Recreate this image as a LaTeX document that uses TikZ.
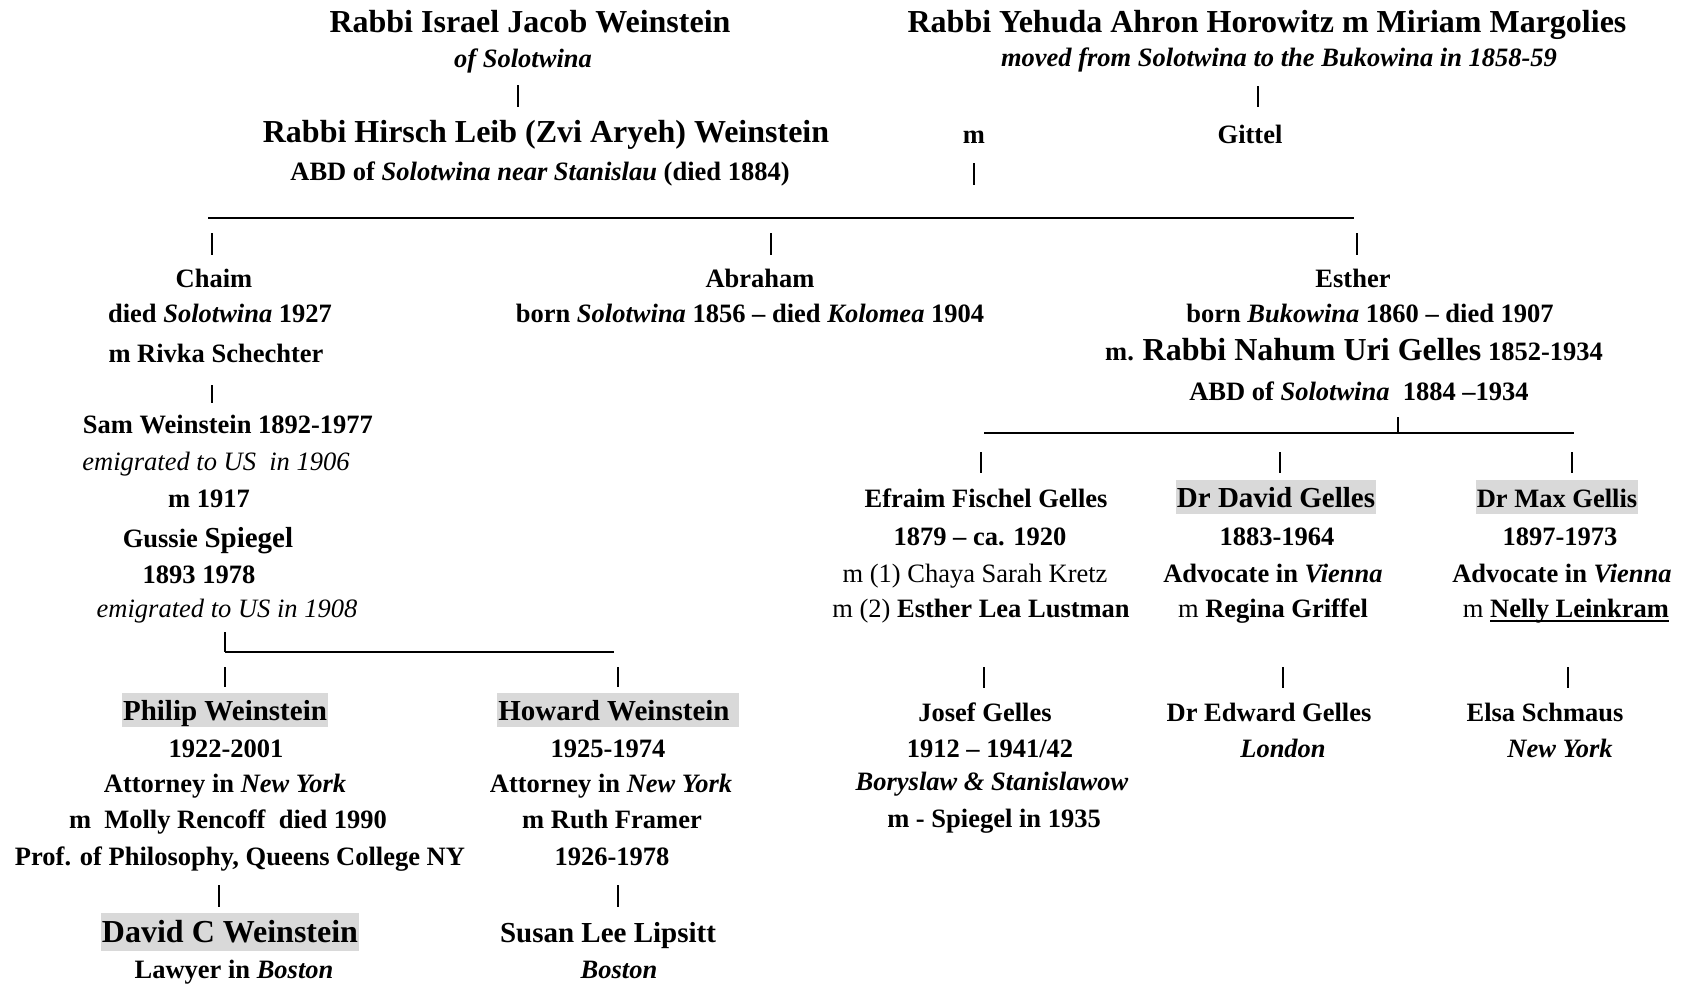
\documentclass[tikz,border=0pt]{standalone}
\usepackage{fontspec}
\setmainfont{Liberation Serif}
\newcommand{\fb}{\fontsize{26.5pt}{30pt}\selectfont}
\newcommand{\fm}{\fontsize{29pt}{33pt}\selectfont}
\newcommand{\fh}{\fontsize{32pt}{36pt}\selectfont}
\newcommand{\ulbold}[1]{\setbox0\hbox{#1}\rlap{\rule[-5pt]{\wd0}{1.8pt}}\box0}
\definecolor{hl}{HTML}{D9D9D9}
\begin{document}
\begin{tikzpicture}[x=1pt,y=-1pt,
  t/.style={anchor=base,inner sep=0pt,font=\fb\bfseries},
  h/.style={t,font=\fh\bfseries},
  mdn/.style={t,font=\fm\bfseries},
  it/.style={t,font=\fb\itshape\mdseries},
  hlbox/.style={fill=hl,inner xsep=1pt,inner ysep=0pt,text height=27.5pt,text depth=7pt},
  thinbar/.style={line width=1.1pt},
  boldbar/.style={line width=2pt},
  hrule/.style={line width=1.4pt}]
\useasboundingbox (0,0) rectangle (1684,986);
% --- generation 1
\node[h] (isr) at (530,32) {Rabbi Israel Jacob Weinstein};
\node[h] (yeh) at (1267,32) {Rabbi Yehuda Ahron Horowitz m Miriam Margolies};
\node[t] (isr2) at (523,67) {\textit{of Solotwina}};
\node[t] (yeh2) at (1279,66) {\textit{moved from Solotwina to the Bukowina in 1858-59}};
% --- generation 2
\node[h] (hir) at (546,142) {Rabbi Hirsch Leib (Zvi Aryeh) Weinstein};
\node[t] (mar) at (974,143) {m};
\node[t] (git) at (1250,143) {Gittel};
\node[t] (hir2) at (540,180) {ABD of \textit{Solotwina near Stanislau} (died 1884)};
% --- generation 3
\node[t] (chaim) at (214,287) {Chaim};
\node[t] (abr) at (760,287) {Abraham};
\node[t] (est) at (1353,287) {Esther};
\node[t] (chaim2) at (220,322) {died \textit{Solotwina} 1927};
\node[t] (abr2) at (750,322) {born \textit{Solotwina} 1856 – died \textit{Kolomea} 1904};
\node[t] (est2) at (1370,322) {born \textit{Bukowina} 1860 – died 1907};
\node[t] (chaim3) at (216,362) {m Rivka Schechter};
\node[t] (est3) at (1354,360) {m. {\fh Rabbi Nahum Uri Gelles} 1852-1934};
\node[t] (est4) at (1359,400) {ABD of \textit{Solotwina}\ \ 1884 –1934};
% --- Sam branch
\node[t] (sam) at (228,433) {Sam Weinstein 1892-1977};
\node[it] (sam2) at (216,470) {emigrated to US\ \ in 1906};
\node[t] (sam3) at (209,507) {m 1917};
\node[t] (gus) at (208,547) {Gussie {\fm Spiegel}};
\node[t] (gus2) at (199,583) {1893 1978};
\node[it] (gus3) at (227,617) {emigrated to US in 1908};
% --- Gelles children
\node[t] (efr) at (986,507) {Efraim Fischel Gelles};
\node[mdn,hlbox] (dav) at (1276,507) {Dr David Gelles};
\node[t,hlbox] (max) at (1557,507) {Dr Max Gellis};
\node[t] (efr2) at (980,545) {1879 – ca. 1920};
\node[t] (dav2) at (1277,545) {1883-1964};
\node[t] (max2) at (1560,545) {1897-1973};
\node[t,font=\fb\mdseries] (efr3) at (975,582) {m (1) Chaya Sarah Kretz};
\node[t] (dav3) at (1273,582) {Advocate in \textit{Vienna}};
\node[t] (max3) at (1562,582) {Advocate in \textit{Vienna}};
\node[t] (efr4) at (981,617) {{\mdseries m (2)} Esther Lea Lustman};
\node[t] (dav4) at (1273,617) {{\mdseries m} Regina Griffel};
\node[t] (max4) at (1566,617) {{\mdseries m} \ulbold{Nelly Leinkram}};
% --- next generation
\node[mdn,hlbox] (phil) at (225,720) {Philip Weinstein};
\node[mdn,hlbox] (how) at (618,720) {Howard Weinstein\hspace*{8pt}};
\node[t] (jos) at (985,721) {Josef Gelles};
\node[t] (edw) at (1269,721) {Dr Edward Gelles};
\node[t] (elsa) at (1545,721) {Elsa Schmaus};
\node[t] (phil2) at (226,757) {1922-2001};
\node[t] (how2) at (608,757) {1925-1974};
\node[t] (jos2) at (990,757) {1912 – 1941/42};
\node[t] (edw2) at (1283,757) {\textit{London}};
\node[t] (elsa2) at (1560,757) {\textit{New York}};
\node[t] (phil3) at (225,792) {Attorney in \textit{New York}};
\node[t] (how3) at (611,792) {Attorney in \textit{New York}};
\node[t] (jos3) at (992,790) {\textit{Boryslaw \& Stanislawow}};
\node[t] (phil4) at (228,828) {m\ \ Molly Rencoff\ \ died 1990};
\node[t] (how4) at (612,828) {m Ruth Framer};
\node[t] (jos4) at (994,827) {m - Spiegel in 1935};
\node[t] (phil5) at (240,865) {Prof. of Philosophy, Queens College NY};
\node[t] (how5) at (612,865) {1926-1978};
\node[h,hlbox,text height=29pt,text depth=9pt] (dcw) at (230,942) {David C Weinstein};
\node[mdn] (sus) at (608,942) {Susan Lee Lipsitt};
\node[t] (dcw2) at (234,978) {Lawyer in \textit{Boston}};
\node[t] (sus2) at (619,978) {\textit{Boston}};
% --- connector coordinates
\coordinate (a1) at (518,85);  \coordinate (a2) at (518,107);
\coordinate (b1) at (1258,86); \coordinate (b2) at (1258,107);
\coordinate (c1) at (974,163); \coordinate (c2) at (974,185);
\coordinate (L1a) at (208,218); \coordinate (L1b) at (1354,218);
\coordinate (d1) at (212,233); \coordinate (d2) at (212,255);
\coordinate (e1) at (771,233); \coordinate (e2) at (771,255);
\coordinate (f1) at (1357,233); \coordinate (f2) at (1357,255);
\coordinate (g1) at (212,385); \coordinate (g2) at (212,403);
\coordinate (L2a) at (984,433); \coordinate (L2b) at (1574,433);
\coordinate (m1) at (1398,417); \coordinate (m2) at (1398,433);
\coordinate (p1) at (981,452); \coordinate (p2) at (981,473);
\coordinate (q1) at (1280,452); \coordinate (q2) at (1280,473);
\coordinate (r1) at (1572,452); \coordinate (r2) at (1572,473);
\coordinate (s1) at (225,632); \coordinate (s2) at (225,652);
\coordinate (L3b) at (614,652);
\coordinate (u1) at (225,667); \coordinate (u2) at (225,687);
\coordinate (v1) at (618,667); \coordinate (v2) at (618,687);
\coordinate (w1) at (984,667); \coordinate (w2) at (984,688);
\coordinate (x1) at (1283,667); \coordinate (x2) at (1283,688);
\coordinate (y1) at (1568,667); \coordinate (y2) at (1568,688);
\coordinate (z1) at (219,885); \coordinate (z2) at (219,907);
\coordinate (k1) at (618,885); \coordinate (k2) at (618,907);
% --- connectors
\draw[thinbar] (a1) -- (a2);
\draw[thinbar] (b1) -- (b2);
\draw[boldbar] (c1) -- (c2);
\draw[hrule] (L1a) -- (L1b);
\draw[boldbar] (d1) -- (d2);
\draw[boldbar] (e1) -- (e2);
\draw[boldbar] (f1) -- (f2);
\draw[boldbar] (g1) -- (g2);
\draw[hrule] (L2a) -- (L2b);
\draw[boldbar] (m1) -- (m2);
\draw[thinbar] (p1) -- (p2);
\draw[thinbar] (q1) -- (q2);
\draw[thinbar] (r1) -- (r2);
\draw[boldbar] (s1) -- (s2);
\draw[hrule] (s2) -- (L3b);
\draw[boldbar] (u1) -- (u2);
\draw[boldbar] (v1) -- (v2);
\draw[thinbar] (w1) -- (w2);
\draw[thinbar] (x1) -- (x2);
\draw[thinbar] (y1) -- (y2);
\draw[thinbar] (z1) -- (z2);
\draw[thinbar] (k1) -- (k2);
\end{tikzpicture}
\end{document}
